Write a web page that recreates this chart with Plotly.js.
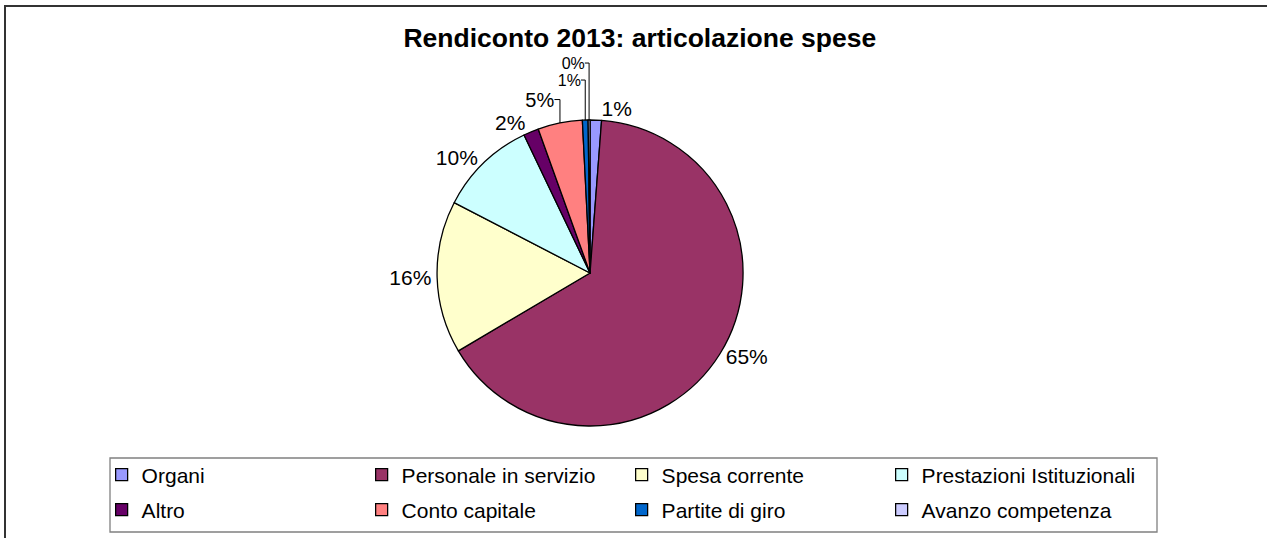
<!DOCTYPE html>
<html>
<head>
<meta charset="utf-8">
<script src="https://cdn.plot.ly/plotly-3.0.1.min.js"></script>
<style>
  html, body { margin: 0; padding: 0; background: #fff; }
  #wrap { position: relative; width: 1267px; height: 538px; overflow: hidden; }
  #chart { position: absolute; left: 0; top: 0; width: 1267px; height: 538px; }
  #frame { position: absolute; left: 4px; top: 5px; width: 1300px; height: 600px;
           border-top: 2px solid #333; border-left: 2px solid #333; pointer-events: none; }
</style>
</head>
<body>
<div id="wrap"><div id="chart"></div><div id="frame"></div></div>
<script>
// ---- data ----
const categories = ["Organi", "Personale in servizio", "Spesa corrente", "Prestazioni Istituzionali",
                    "Altro", "Conto capitale", "Partite di giro", "Avanzo competenza"];
const values = [1.2, 65.3, 16.1, 10.3, 1.6, 4.7, 0.6, 0.2];
const colors = ["#9999FF", "#993366", "#FFFFCC", "#CCFFFF", "#660066", "#FF8080", "#0066CC", "#CCCCFF"];
const legendRow = ["legend", "legend", "legend", "legend", "legend2", "legend2", "legend2", "legend2"];
const chartTitle = "Rendiconto 2013: articolazione spese";

const FONT = "Liberation Sans, Arial, sans-serif";
const labelSizes = [21, 21, 21, 21, 21, 20, 16, 16];

const traces = [{
  type: "pie",
  labels: categories,
  values: values,
  sort: false,
  direction: "clockwise",
  rotation: 0,
  marker: { colors: colors, line: { color: "#000000", width: 1.3 } },
  textposition: "outside",
  texttemplate: "%{percent:.0%}",
  outsidetextfont: { family: FONT, size: labelSizes, color: "#000000" },
  domain: { x: [0, 0.917], y: [0, 1] },
  showlegend: false,
  hoverinfo: "label+percent"
}];

categories.forEach((c, i) => {
  traces.push({
    type: "scatter",
    mode: "markers",
    x: [null], y: [null],
    name: c,
    legend: legendRow[i],
    marker: { symbol: "square", size: 12, color: colors[i], line: { color: "#000000", width: 1.3 } },
    showlegend: true,
    hoverinfo: "skip"
  });
});

const legendCommon = {
  orientation: "h",
  xanchor: "left",
  x: -0.008,
  yanchor: "middle",
  entrywidth: 215,
  entrywidthmode: "pixels",
  bgcolor: "rgba(0,0,0,0)",
  borderwidth: 0,
  font: { family: FONT, size: 21, color: "#000000" },
  itemclick: false,
  itemdoubleclick: false
};

const layout = {
  width: 1267,
  height: 538,
  paper_bgcolor: "#ffffff",
  plot_bgcolor: "#ffffff",
  margin: { l: 110, r: 110, t: 120, b: 112, autoexpand: false },
  title: {
    text: "<b>" + chartTitle + "</b>",
    font: { family: FONT, size: 26.5, color: "#000000" },
    x: 0.505, xanchor: "center",
    y: 0.9294, yanchor: "middle"
  },
  xaxis: { visible: false, fixedrange: true },
  yaxis: { visible: false, fixedrange: true },
  legend: Object.assign({}, legendCommon, { y: -0.160 }),
  legend2: Object.assign({}, legendCommon, { y: -0.2745 }),
  shapes: [{
    type: "rect", xref: "paper", yref: "paper",
    x0: 0, x1: 1, y0: -0.1046, y1: -0.3464,
    line: { color: "#808080", width: 1.3 }, fillcolor: "rgba(0,0,0,0)", layer: "below"
  }],
  showlegend: true
};

Plotly.newPlot("chart", traces, layout, { displayModeBar: false, staticPlot: true });
</script>
</body>
</html>
